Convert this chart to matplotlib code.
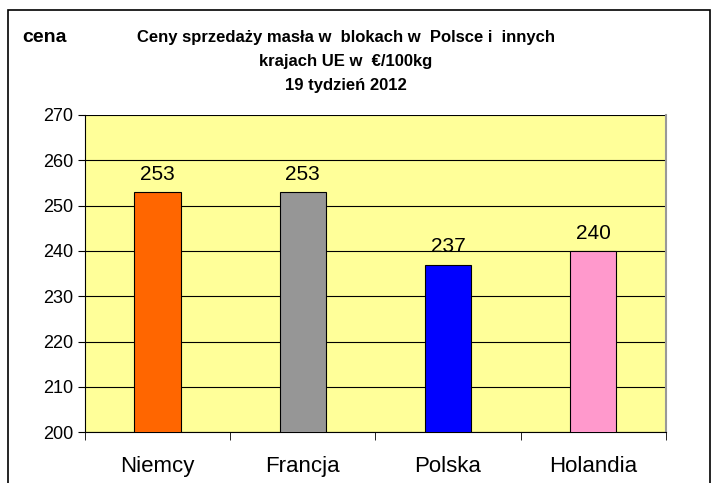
import matplotlib.pyplot as plt
from matplotlib.patches import Rectangle

# Data
countries = ['Niemcy', 'Francja', 'Polska', 'Holandia']
prices = [253, 253, 237, 240]
colors = ['#FF6600', '#969696', '#0000FF', '#FF99CC']

plt.rcParams['font.family'] = ['Liberation Sans', 'DejaVu Sans']

fig = plt.figure(figsize=(7.15, 4.83), dpi=100)
ax = fig.add_axes([0.119, 0.105, 0.812, 0.657])

x = range(len(countries))
ax.bar(x, prices, width=0.32, color=colors, edgecolor='black', linewidth=0.8, zorder=3)

for i, v in enumerate(prices):
    ax.annotate(str(v), (i, v), xytext=(0, 6), textcoords='offset points',
                ha='center', va='bottom', fontsize=15, zorder=4)

ax.set_ylim(200, 270)
ax.set_yticks(range(200, 271, 10))
ax.set_xlim(-0.5, len(countries) - 0.5)
ax.set_xticks(list(x))
ax.set_xticklabels(countries, fontsize=16)
ax.tick_params(axis='x', length=0, pad=17)
ax.set_xticks([i + 0.5 for i in range(-1, len(countries))], minor=True)
ax.tick_params(axis='x', which='minor', length=6, direction='out', color='black')
ax.tick_params(axis='y', length=5, direction='out', labelsize=13)

ax.set_facecolor('#FFFF99')
ax.grid(axis='y', color='black', linewidth=0.8, zorder=0)
ax.set_axisbelow(True)
ax.spines['top'].set_visible(False)
ax.spines['right'].set_color('#999999')
ax.spines['right'].set_linewidth(1.5)
ax.spines['left'].set_color('black')
ax.spines['bottom'].set_color('black')

# Titles
fig.text(0.484, 0.922, 'Ceny sprzedaży masła w  blokach w  Polsce i  innych',
         ha='center', va='center', fontsize=12, fontweight='bold')
fig.text(0.484, 0.872, 'krajach UE w  €/100kg',
         ha='center', va='center', fontsize=12, fontweight='bold')
fig.text(0.484, 0.822, '19 tydzień 2012',
         ha='center', va='center', fontsize=12, fontweight='bold')
fig.text(0.031, 0.922, 'cena', ha='left', va='center', fontsize=14, fontweight='bold')

# Outer frame
fig.patches.append(Rectangle((0.011, -0.01), 0.982, 0.99, transform=fig.transFigure,
                             fill=False, edgecolor='black', linewidth=1.2))

fig.savefig('out.png', dpi=100)
